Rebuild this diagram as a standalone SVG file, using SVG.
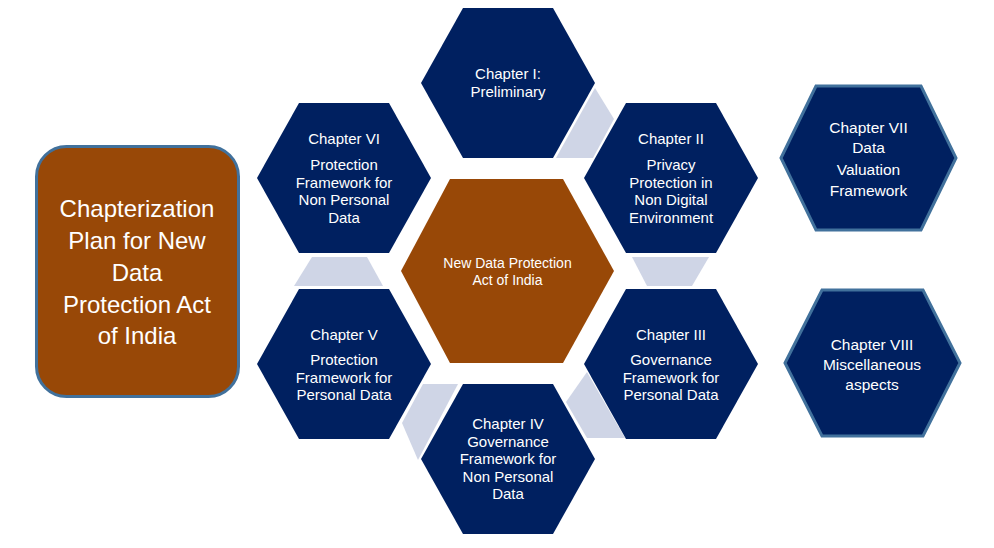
<svg xmlns="http://www.w3.org/2000/svg" width="994" height="548" viewBox="0 0 994 548">
<style>
  .hex { fill: #002060; }
  .hexs { fill: #002060; stroke: #41719c; stroke-width: 3; }
  .core { fill: #984807; }
  .conn { fill: #cfd5e6; }
  text { font-family: "Liberation Sans", Arial, sans-serif; fill: #ffffff; text-anchor: middle; }
  .t15 { font-size: 15px; }
  .t14 { font-size: 14px; }
  .t155 { font-size: 15.5px; }
  .t24 { font-size: 24px; }
</style>
<rect width="994" height="548" fill="#ffffff"/>

<g id="connectors">
  <polygon class="conn" points="595,88 614,119 593,158 556,158"/>
  <polygon class="conn" points="632,257 709,257 692,286 647,286"/>
  <polygon class="conn" points="587,372 625,438 587,438 566,402"/>
  <polygon class="conn" points="423,384 458,384 418,460 402,423"/>
  <polygon class="conn" points="312,257 367,257 383,286 294,286"/>
</g>

<g id="title">
  <rect x="36.5" y="146.5" width="202" height="250" rx="30" ry="30" fill="#984807" stroke="#41719c" stroke-width="3"/>
  <text class="t24" x="137" y="217">Chapterization</text>
  <text class="t24" x="137" y="249">Plan for New</text>
  <text class="t24" x="137" y="281">Data</text>
  <text class="t24" x="137" y="312.5">Protection Act</text>
  <text class="t24" x="137" y="344">of India</text>
</g>

<g id="center">
  <polygon class="core" points="401,271 450,179 563,179 614,271 563,363 450,363"/>
  <text class="t14" x="507.5" y="267.5">New Data Protection</text>
  <text class="t14" x="507.5" y="285">Act of India</text>
</g>

<g id="chapter1">
  <polygon class="hex" points="421,83 463,8 553,8 595,83 553,158 463,158"/>
  <text class="t15" x="508" y="79">Chapter I:</text>
  <text class="t15" x="508" y="97">Preliminary</text>
</g>

<g id="chapter2">
  <polygon class="hex" points="584,178 626,103 716,103 758,178 716,253 626,253"/>
  <text class="t15" x="671" y="144">Chapter II</text>
  <text class="t15" x="671" y="170">Privacy</text>
  <text class="t15" x="671" y="187.5">Protection in</text>
  <text class="t15" x="671" y="205">Non Digital</text>
  <text class="t15" x="671" y="222.5">Environment</text>
</g>

<g id="chapter3">
  <polygon class="hex" points="584,364 626,289 716,289 758,364 716,439 626,439"/>
  <text class="t15" x="671" y="340">Chapter III</text>
  <text class="t15" x="671" y="365">Governance</text>
  <text class="t15" x="671" y="382.5">Framework for</text>
  <text class="t15" x="671" y="400">Personal Data</text>
</g>

<g id="chapter4">
  <polygon class="hex" points="421,459 463,384 553,384 595,459 553,534 463,534"/>
  <text class="t15" x="508" y="428.5">Chapter IV</text>
  <text class="t15" x="508" y="446.5">Governance</text>
  <text class="t15" x="508" y="464">Framework for</text>
  <text class="t15" x="508" y="481.5">Non Personal</text>
  <text class="t15" x="508" y="499">Data</text>
</g>

<g id="chapter5">
  <polygon class="hex" points="257,364 299,289 389,289 431,364 389,439 299,439"/>
  <text class="t15" x="344" y="340">Chapter V</text>
  <text class="t15" x="344" y="365">Protection</text>
  <text class="t15" x="344" y="382.5">Framework for</text>
  <text class="t15" x="344" y="400">Personal Data</text>
</g>

<g id="chapter6">
  <polygon class="hex" points="257,178 299,103 389,103 431,178 389,253 299,253"/>
  <text class="t15" x="344" y="144">Chapter VI</text>
  <text class="t15" x="344" y="170">Protection</text>
  <text class="t15" x="344" y="187.5">Framework for</text>
  <text class="t15" x="344" y="205">Non Personal</text>
  <text class="t15" x="344" y="222.5">Data</text>
</g>

<g id="chapter7">
  <polygon class="hexs" points="781,158 816,86 921,86 956,158 921,230 816,230"/>
  <text class="t155" x="868.5" y="132.5">Chapter VII</text>
  <text class="t155" x="868.5" y="153">Data</text>
  <text class="t155" x="868.5" y="174.5">Valuation</text>
  <text class="t155" x="868.5" y="195.5">Framework</text>
</g>

<g id="chapter8">
  <polygon class="hexs" points="785,363 822,290 923,290 960,363 923,436 822,436"/>
  <text class="t155" x="872" y="349.5">Chapter VIII</text>
  <text class="t155" x="872" y="369.5">Miscellaneous</text>
  <text class="t155" x="872" y="389.5">aspects</text>
</g>
</svg>
